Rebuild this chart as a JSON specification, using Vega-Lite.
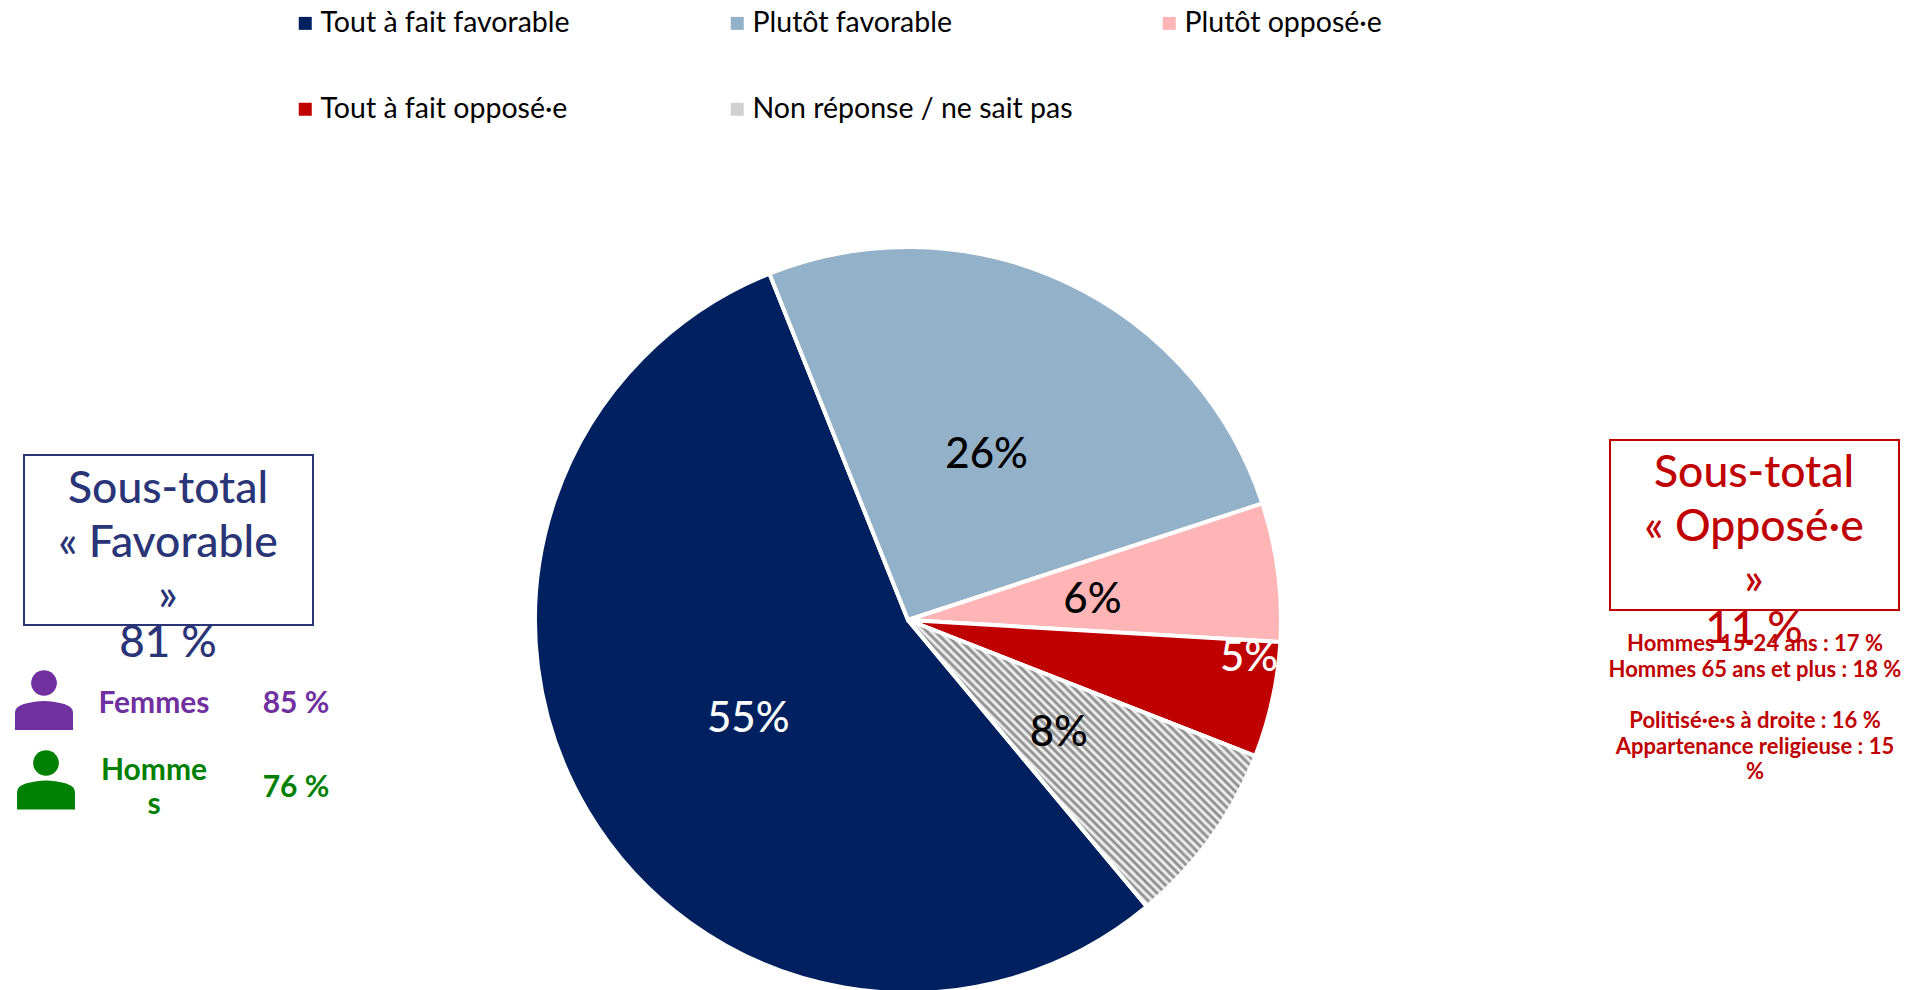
{"$schema":"https://vega.github.io/schema/vega-lite/v6.json","width":1916,"height":990,"padding":0,"autosize":"none","background":"white","view":{"stroke":null},"config":{"font":"Lato"},"data":{"values":[{"reponse":"Tout à fait favorable","valeur":55,"etiquette":"55%","rang":1},{"reponse":"Plutôt favorable","valeur":26,"etiquette":"26%","rang":2},{"reponse":"Plutôt opposé·e","valeur":6,"etiquette":"6%","rang":3},{"reponse":"Tout à fait opposé·e","valeur":5,"etiquette":"5%","rang":4},{"reponse":"Non réponse / ne sait pas","valeur":8,"etiquette":"8%","rang":5}]},"transform":[{"stack":"valeur","sort":[{"field":"rang","order":"ascending"}],"groupby":[],"as":["v0","v1"]}],"layer":[
{"mark":{"type":"arc","radius":373,"stroke":"white","strokeWidth":4},"encoding":{"x":{"datum":908,"type":"quantitative","scale":{"domain":[0,1916],"range":[0,1916]},"axis":null},"y":{"datum":620,"type":"quantitative","scale":{"domain":[0,990],"range":[0,990]},"axis":null},"theta":{"field":"v0","type":"quantitative","scale":{"domain":[0,100],"range":[2.447,8.730]}},"theta2":{"field":"v1"},"color":{"field":"reponse","type":"nominal","sort":null,"scale":{"domain":["Tout à fait favorable","Plutôt favorable","Plutôt opposé·e","Tout à fait opposé·e","Non réponse / ne sait pas"],"range":["#002060","#93B1C9","#FFB5B5","#C00000","#D0D0D0"]},"legend":{"orient":"none","direction":"horizontal","legendX":291,"legendY":9,"columns":3,"gridAlign":"all","title":null,"symbolType":"square","symbolSize":169,"symbolStrokeWidth":0,"labelFont":"Lato","labelFontSize":28.5,"labelColor":"#000000","labelLimit":400,"columnPadding":82,"rowPadding":57,"labelOffset":1}}}},
{"transform":[{"filter":"datum.rang===5"}],"mark":{"type":"arc","radius":373,"stroke":"white","strokeWidth":4,"fill":{"gradient":"linear","x1":0,"y1":0.829,"x2":1,"y2":0,"stops":[
{"offset":0,"color":"#808080"},{"offset":0.007,"color":"#fff"},{"offset":0.014,"color":"#808080"},{"offset":0.021,"color":"#fff"},{"offset":0.028,"color":"#808080"},{"offset":0.035,"color":"#fff"},{"offset":0.042,"color":"#808080"},{"offset":0.049,"color":"#fff"},{"offset":0.056,"color":"#808080"},{"offset":0.063,"color":"#fff"},{"offset":0.07,"color":"#808080"},{"offset":0.077,"color":"#fff"},{"offset":0.084,"color":"#808080"},{"offset":0.091,"color":"#fff"},{"offset":0.098,"color":"#808080"},{"offset":0.105,"color":"#fff"},{"offset":0.112,"color":"#808080"},{"offset":0.119,"color":"#fff"},{"offset":0.126,"color":"#808080"},{"offset":0.133,"color":"#fff"},{"offset":0.14,"color":"#808080"},{"offset":0.147,"color":"#fff"},{"offset":0.154,"color":"#808080"},{"offset":0.161,"color":"#fff"},{"offset":0.168,"color":"#808080"},{"offset":0.175,"color":"#fff"},{"offset":0.182,"color":"#808080"},{"offset":0.189,"color":"#fff"},{"offset":0.196,"color":"#808080"},{"offset":0.203,"color":"#fff"},{"offset":0.21,"color":"#808080"},{"offset":0.217,"color":"#fff"},{"offset":0.224,"color":"#808080"},{"offset":0.231,"color":"#fff"},{"offset":0.238,"color":"#808080"},{"offset":0.245,"color":"#fff"},{"offset":0.252,"color":"#808080"},{"offset":0.259,"color":"#fff"},{"offset":0.266,"color":"#808080"},{"offset":0.273,"color":"#fff"},{"offset":0.28,"color":"#808080"},{"offset":0.287,"color":"#fff"},{"offset":0.294,"color":"#808080"},{"offset":0.301,"color":"#fff"},{"offset":0.308,"color":"#808080"},{"offset":0.315,"color":"#fff"},{"offset":0.322,"color":"#808080"},{"offset":0.329,"color":"#fff"},{"offset":0.336,"color":"#808080"},{"offset":0.343,"color":"#fff"},{"offset":0.35,"color":"#808080"},{"offset":0.357,"color":"#fff"},{"offset":0.364,"color":"#808080"},{"offset":0.371,"color":"#fff"},{"offset":0.378,"color":"#808080"},{"offset":0.385,"color":"#fff"},{"offset":0.392,"color":"#808080"},{"offset":0.399,"color":"#fff"},{"offset":0.406,"color":"#808080"},{"offset":0.413,"color":"#fff"},{"offset":0.42,"color":"#808080"},{"offset":0.427,"color":"#fff"},{"offset":0.434,"color":"#808080"},{"offset":0.441,"color":"#fff"},{"offset":0.448,"color":"#808080"},{"offset":0.455,"color":"#fff"},{"offset":0.462,"color":"#808080"},{"offset":0.469,"color":"#fff"},{"offset":0.476,"color":"#808080"},{"offset":0.483,"color":"#fff"},{"offset":0.49,"color":"#808080"},{"offset":0.497,"color":"#fff"},{"offset":0.504,"color":"#808080"},{"offset":0.511,"color":"#fff"},{"offset":0.518,"color":"#808080"},{"offset":0.525,"color":"#fff"},{"offset":0.532,"color":"#808080"},{"offset":0.539,"color":"#fff"},{"offset":0.546,"color":"#808080"},{"offset":0.553,"color":"#fff"},{"offset":0.56,"color":"#808080"},{"offset":0.567,"color":"#fff"},{"offset":0.574,"color":"#808080"},{"offset":0.581,"color":"#fff"},{"offset":0.588,"color":"#808080"},{"offset":0.595,"color":"#fff"},{"offset":0.602,"color":"#808080"},{"offset":0.609,"color":"#fff"},{"offset":0.616,"color":"#808080"},{"offset":0.623,"color":"#fff"},{"offset":0.63,"color":"#808080"},{"offset":0.637,"color":"#fff"},{"offset":0.644,"color":"#808080"},{"offset":0.651,"color":"#fff"},{"offset":0.658,"color":"#808080"},{"offset":0.665,"color":"#fff"},{"offset":0.672,"color":"#808080"},{"offset":0.679,"color":"#fff"},{"offset":0.686,"color":"#808080"},{"offset":0.693,"color":"#fff"},{"offset":0.7,"color":"#808080"},{"offset":0.707,"color":"#fff"},{"offset":0.714,"color":"#808080"},{"offset":0.721,"color":"#fff"},{"offset":0.728,"color":"#808080"},{"offset":0.735,"color":"#fff"},{"offset":0.742,"color":"#808080"},{"offset":0.749,"color":"#fff"},{"offset":0.756,"color":"#808080"},{"offset":0.763,"color":"#fff"},{"offset":0.77,"color":"#808080"},{"offset":0.777,"color":"#fff"},{"offset":0.784,"color":"#808080"},{"offset":0.791,"color":"#fff"},{"offset":0.798,"color":"#808080"},{"offset":0.805,"color":"#fff"},{"offset":0.812,"color":"#808080"},{"offset":0.819,"color":"#fff"},{"offset":0.826,"color":"#808080"},{"offset":0.833,"color":"#fff"},{"offset":0.84,"color":"#808080"},{"offset":0.847,"color":"#fff"},{"offset":0.854,"color":"#808080"},{"offset":0.861,"color":"#fff"},{"offset":0.868,"color":"#808080"},{"offset":0.875,"color":"#fff"},{"offset":0.882,"color":"#808080"},{"offset":0.889,"color":"#fff"},{"offset":0.896,"color":"#808080"},{"offset":0.903,"color":"#fff"},{"offset":0.91,"color":"#808080"},{"offset":0.917,"color":"#fff"},{"offset":0.924,"color":"#808080"},{"offset":0.931,"color":"#fff"},{"offset":0.938,"color":"#808080"},{"offset":0.945,"color":"#fff"},{"offset":0.952,"color":"#808080"},{"offset":0.959,"color":"#fff"},{"offset":0.966,"color":"#808080"},{"offset":0.973,"color":"#fff"},{"offset":0.98,"color":"#808080"},{"offset":0.987,"color":"#fff"},{"offset":0.994,"color":"#808080"},{"offset":1,"color":"#fff"}]}},"encoding":{"x":{"datum":908,"type":"quantitative","scale":{"domain":[0,1916],"range":[0,1916]},"axis":null},"y":{"datum":620,"type":"quantitative","scale":{"domain":[0,990],"range":[0,990]},"axis":null},"theta":{"field":"v0","type":"quantitative","scale":{"domain":[0,100],"range":[2.447,8.730]}},"theta2":{"field":"v1"}}},
{"mark":{"type":"text","radius":186,"dy":4,"fontSize":42,"fontWeight":500,"font":"Lato","align":"center","baseline":"middle"},"encoding":{"x":{"datum":908,"type":"quantitative","scale":{"domain":[0,1916],"range":[0,1916]},"axis":null},"y":{"datum":620,"type":"quantitative","scale":{"domain":[0,990],"range":[0,990]},"axis":null},"theta":{"field":"valeur","type":"quantitative","stack":true,"scale":{"domain":[0,100],"range":[2.447,8.730]}},"order":{"field":"rang"},"detail":{"field":"reponse"},"text":{"condition":{"test":"datum.rang===4","value":""},"field":"etiquette"},"color":{"condition":{"test":"datum.rang===1","value":"white"},"value":"black"}}},
{"transform":[{"filter":"datum.rang===4"}],"mark":{"type":"text","fontSize":42,"fontWeight":500,"font":"Lato","align":"center","baseline":"middle","color":"white"},"encoding":{"x":{"datum":1249,"type":"quantitative","scale":{"domain":[0,1916],"range":[0,1916]},"axis":null},"y":{"datum":658,"type":"quantitative","scale":{"domain":[0,990],"range":[0,990]},"axis":null},"text":{"field":"etiquette"}}},
{"data":{"values":[{"cadre":"Favorable"}]},"mark":{"type":"rect","filled":false,"stroke":"#2A3577","strokeWidth":2},"encoding":{"x":{"datum":24,"type":"quantitative","scale":{"domain":[0,1916],"range":[0,1916]},"axis":null},"x2":{"datum":313},"y":{"datum":455,"type":"quantitative","scale":{"domain":[0,990],"range":[0,990]},"axis":null},"y2":{"datum":625}}},
{"data":{"values":[{"cadre":"Opposé"}]},"mark":{"type":"rect","filled":false,"stroke":"#C00000","strokeWidth":2},"encoding":{"x":{"datum":1610,"type":"quantitative","scale":{"domain":[0,1916],"range":[0,1916]},"axis":null},"x2":{"datum":1899},"y":{"datum":440,"type":"quantitative","scale":{"domain":[0,990],"range":[0,990]},"axis":null},"y2":{"datum":610}}},
{"data":{"values":[{"t":["Sous-total","« Favorable","»"]}]},"mark":{"type":"text","fontSize":44.5,"fontWeight":500,"font":"Lato","lineHeight":53.5,"align":"center","baseline":"alphabetic","color":"#2A3577"},"encoding":{"x":{"datum":168,"type":"quantitative","scale":{"domain":[0,1916],"range":[0,1916]},"axis":null},"y":{"datum":503,"type":"quantitative","scale":{"domain":[0,990],"range":[0,990]},"axis":null},"text":{"field":"t"}}},
{"data":{"values":[{"t":"81 %"}]},"mark":{"type":"text","fontSize":44,"fontWeight":500,"font":"Lato","align":"center","baseline":"alphabetic","color":"#2A3577"},"encoding":{"x":{"datum":168,"type":"quantitative","scale":{"domain":[0,1916],"range":[0,1916]},"axis":null},"y":{"datum":657,"type":"quantitative","scale":{"domain":[0,990],"range":[0,990]},"axis":null},"text":{"field":"t"}}},
{"data":{"values":[{"t":["Sous-total","« Opposé·e","»"]}]},"mark":{"type":"text","fontSize":44.5,"fontWeight":500,"font":"Lato","lineHeight":53.5,"align":"center","baseline":"alphabetic","color":"#C00000"},"encoding":{"x":{"datum":1754,"type":"quantitative","scale":{"domain":[0,1916],"range":[0,1916]},"axis":null},"y":{"datum":487,"type":"quantitative","scale":{"domain":[0,990],"range":[0,990]},"axis":null},"text":{"field":"t"}}},
{"data":{"values":[{"t":"11 %"}]},"mark":{"type":"text","fontSize":44,"fontWeight":500,"font":"Lato","align":"center","baseline":"alphabetic","color":"#C00000"},"encoding":{"x":{"datum":1754,"type":"quantitative","scale":{"domain":[0,1916],"range":[0,1916]},"axis":null},"y":{"datum":643,"type":"quantitative","scale":{"domain":[0,990],"range":[0,990]},"axis":null},"text":{"field":"t"}}},
{"data":{"values":[{"t":["Hommes 15-24 ans : 17 %","Hommes 65 ans et plus : 18 %"]}]},"mark":{"type":"text","fontSize":22,"fontWeight":"bold","font":"Lato","lineHeight":25.6,"align":"center","baseline":"alphabetic","color":"#C00000"},"encoding":{"x":{"datum":1755,"type":"quantitative","scale":{"domain":[0,1916],"range":[0,1916]},"axis":null},"y":{"datum":651,"type":"quantitative","scale":{"domain":[0,990],"range":[0,990]},"axis":null},"text":{"field":"t"}}},
{"data":{"values":[{"t":["Politisé·e·s à droite : 16 %","Appartenance religieuse : 15","%"]}]},"mark":{"type":"text","fontSize":22,"fontWeight":"bold","font":"Lato","lineHeight":25.6,"align":"center","baseline":"alphabetic","color":"#C00000"},"encoding":{"x":{"datum":1755,"type":"quantitative","scale":{"domain":[0,1916],"range":[0,1916]},"axis":null},"y":{"datum":728,"type":"quantitative","scale":{"domain":[0,990],"range":[0,990]},"axis":null},"text":{"field":"t"}}},
{"data":{"values":[{"t":"Femmes"}]},"mark":{"type":"text","fontSize":30,"fontWeight":"bold","font":"Lato","align":"center","baseline":"alphabetic","color":"#7030A0"},"encoding":{"x":{"datum":154,"type":"quantitative","scale":{"domain":[0,1916],"range":[0,1916]},"axis":null},"y":{"datum":713,"type":"quantitative","scale":{"domain":[0,990],"range":[0,990]},"axis":null},"text":{"field":"t"}}},
{"data":{"values":[{"t":"85 %"}]},"mark":{"type":"text","fontSize":30,"fontWeight":"bold","font":"Lato","align":"center","baseline":"alphabetic","color":"#7030A0"},"encoding":{"x":{"datum":296,"type":"quantitative","scale":{"domain":[0,1916],"range":[0,1916]},"axis":null},"y":{"datum":713,"type":"quantitative","scale":{"domain":[0,990],"range":[0,990]},"axis":null},"text":{"field":"t"}}},
{"data":{"values":[{"t":["Homme","s"]}]},"mark":{"type":"text","fontSize":30,"fontWeight":"bold","font":"Lato","lineHeight":34,"align":"center","baseline":"alphabetic","color":"#008000"},"encoding":{"x":{"datum":154,"type":"quantitative","scale":{"domain":[0,1916],"range":[0,1916]},"axis":null},"y":{"datum":780,"type":"quantitative","scale":{"domain":[0,990],"range":[0,990]},"axis":null},"text":{"field":"t"}}},
{"data":{"values":[{"t":"76 %"}]},"mark":{"type":"text","fontSize":30,"fontWeight":"bold","font":"Lato","align":"center","baseline":"alphabetic","color":"#008000"},"encoding":{"x":{"datum":296,"type":"quantitative","scale":{"domain":[0,1916],"range":[0,1916]},"axis":null},"y":{"datum":797,"type":"quantitative","scale":{"domain":[0,990],"range":[0,990]},"axis":null},"text":{"field":"t"}}},
{"data":{"values":[{"icone":"femmes"}]},"mark":{"type":"point","filled":true,"opacity":1,"shape":"circle","size":660,"color":"#7030A0"},"encoding":{"x":{"datum":44,"type":"quantitative","scale":{"domain":[0,1916],"range":[0,1916]},"axis":null},"y":{"datum":683,"type":"quantitative","scale":{"domain":[0,990],"range":[0,990]},"axis":null}}},
{"data":{"values":[{"icone":"femmes"}]},"mark":{"type":"point","filled":true,"opacity":1,"shape":"M-1,0.5L-1,-0.1Q-1,-0.3-0.7,-0.4Q-0.3,-0.5,0,-0.5Q0.3,-0.5,0.7,-0.4Q1,-0.3,1,-0.1L1,0.5Z","size":3364,"color":"#7030A0"},"encoding":{"x":{"datum":44,"type":"quantitative","scale":{"domain":[0,1916],"range":[0,1916]},"axis":null},"y":{"datum":715.5,"type":"quantitative","scale":{"domain":[0,990],"range":[0,990]},"axis":null}}},
{"data":{"values":[{"icone":"hommes"}]},"mark":{"type":"point","filled":true,"opacity":1,"shape":"circle","size":660,"color":"#008000"},"encoding":{"x":{"datum":46,"type":"quantitative","scale":{"domain":[0,1916],"range":[0,1916]},"axis":null},"y":{"datum":763,"type":"quantitative","scale":{"domain":[0,990],"range":[0,990]},"axis":null}}},
{"data":{"values":[{"icone":"hommes"}]},"mark":{"type":"point","filled":true,"opacity":1,"shape":"M-1,0.5L-1,-0.1Q-1,-0.3-0.7,-0.4Q-0.3,-0.5,0,-0.5Q0.3,-0.5,0.7,-0.4Q1,-0.3,1,-0.1L1,0.5Z","size":3364,"color":"#008000"},"encoding":{"x":{"datum":46,"type":"quantitative","scale":{"domain":[0,1916],"range":[0,1916]},"axis":null},"y":{"datum":795,"type":"quantitative","scale":{"domain":[0,990],"range":[0,990]},"axis":null}}}
]}
